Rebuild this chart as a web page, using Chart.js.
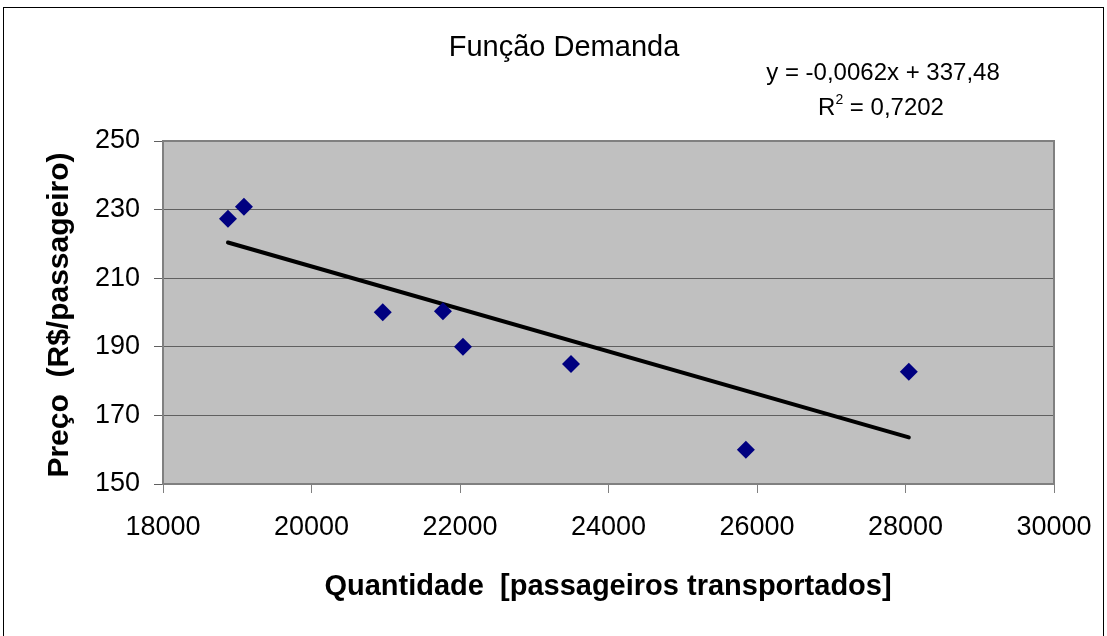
<!DOCTYPE html>
<html>
<head>
<meta charset="utf-8">
<script src="https://cdn.jsdelivr.net/npm/chart.js@4.4.0/dist/chart.umd.min.js"></script>
<style>
  html, body { margin: 0; padding: 0; background: #fff; }
  #wrap { width: 1107px; height: 636px; position: relative; }
</style>
</head>
<body>
<div id="wrap"><canvas id="demandaChart"></canvas></div>
<script>
// Data
const quantidade = [18875, 19090, 20960, 21770, 22040, 23495, 25850, 28045];
const preco = [227.3, 230.8, 200.1, 200.4, 190, 185, 160, 182.7];
// trendline endpoints (linear fit shown on the chart)
const trendX = [18875, 28045];
const trendY = [220.4, 163.6];
const yTicks = [150, 170, 190, 210, 230, 250];
const xTicks = [18000, 20000, 22000, 24000, 26000, 28000, 30000];

const titleText = 'Função Demanda';
const eqText = 'y = -0,0062x + 337,48';
const yTitle = 'Preço  (R$/passageiro)';
const xTitle = 'Quantidade  [passageiros transportados]';

const FONT = '"Liberation Sans", Arial, sans-serif';

// plot background, frame and the free text (title, equation, axis titles)
const decorPlugin = {
  id: 'decor',
  beforeDraw(chart) {
    const ctx = chart.ctx;
    const a = chart.chartArea;
    ctx.save();
    ctx.fillStyle = '#ffffff';
    ctx.fillRect(0, 0, chart.width, chart.height);
    // outer frame
    ctx.strokeStyle = '#000';
    ctx.lineWidth = 1;
    ctx.strokeRect(3.5, 7.5, 1100, 640);
    // plot area
    ctx.fillStyle = '#c0c0c0';
    ctx.fillRect(a.left, a.top, a.right - a.left, a.bottom - a.top);
    ctx.restore();
  },
  afterDraw(chart) {
    const ctx = chart.ctx;
    const a = chart.chartArea;
    ctx.save();
    ctx.strokeStyle = '#808080';
    ctx.lineWidth = 2;
    ctx.strokeRect(a.left, a.top, a.right - a.left, a.bottom - a.top);

    ctx.fillStyle = '#000';
    ctx.textAlign = 'center';
    ctx.textBaseline = 'middle';
    ctx.font = '29px ' + FONT;
    ctx.fillText(titleText, 564, 48);
    ctx.font = '24px ' + FONT;
    ctx.fillText(eqText, 883, 73);
    // R² line
    const rMain = 'R', rRest = ' = 0,7202';
    const wR = ctx.measureText(rMain).width;
    ctx.font = '14px ' + FONT;
    const wSup = ctx.measureText('2').width;
    ctx.font = '24px ' + FONT;
    const wRest = ctx.measureText(rRest).width;
    let x0 = 881 - (wR + wSup + wRest) / 2;
    ctx.textAlign = 'left';
    ctx.fillText(rMain, x0, 108);
    ctx.font = '14px ' + FONT;
    ctx.fillText('2', x0 + wR, 100);
    ctx.font = '24px ' + FONT;
    ctx.fillText(rRest, x0 + wR + wSup, 108);

    // axis titles
    ctx.textAlign = 'center';
    ctx.font = 'bold 29px ' + FONT;
    ctx.fillText(xTitle, 608, 587);
    ctx.font = 'bold 30px ' + FONT;
    ctx.translate(60, 315);
    ctx.rotate(-Math.PI / 2);
    ctx.fillText(yTitle, 0, 0);
    ctx.restore();
  }
};

new Chart(document.getElementById('demandaChart'), {
  data: {
    datasets: [
      {
        type: 'scatter',
        label: 'Preço',
        data: quantidade.map((q, i) => ({ x: q, y: preco[i] })),
        pointStyle: 'rectRot',
        pointRadius: 9,
        pointHoverRadius: 9,
        backgroundColor: '#000080',
        borderColor: '#000080',
        borderWidth: 0,
        order: 1
      },
      {
        type: 'line',
        label: 'Linear',
        data: trendX.map((q, i) => ({ x: q, y: trendY[i] })),
        borderColor: '#000',
        borderWidth: 4,
        pointRadius: 0,
        borderCapStyle: 'round',
        fill: false,
        order: 2
      }
    ]
  },
  options: {
    responsive: true,
    maintainAspectRatio: false,
    animation: false,
    layout: { padding: { top: 141, right: 53, left: 0, bottom: 0 } },
    plugins: {
      legend: { display: false },
      title: { display: false },
      tooltip: { enabled: false }
    },
    scales: {
      x: {
        type: 'linear',
        min: 18000,
        max: 30000,
        afterBuildTicks(scale) { scale.ticks = xTicks.map(v => ({ value: v })); },
        afterFit(scale) {
          scale.height = 152;
          scale.paddingRight = 0;
          scale.paddingLeft = 0;
        },
        grid: { drawOnChartArea: false, drawTicks: true, tickLength: 9, color: '#808080', lineWidth: 1 },
        border: { display: true, color: '#808080', width: 2 },
        ticks: {
          color: '#000', font: { family: FONT, size: 27 }, padding: 18, maxRotation: 0,
          callback: v => String(v)
        }
      },
      y: {
        min: 150,
        max: 250,
        afterBuildTicks(scale) { scale.ticks = yTicks.map(v => ({ value: v })); },
        afterFit(scale) { scale.width = 163; },
        grid: { drawOnChartArea: true, drawTicks: true, tickLength: 9, color: '#606060', lineWidth: 1 },
        border: { display: true, color: '#808080', width: 2 },
        ticks: { color: '#000', font: { family: FONT, size: 27 }, padding: 14, callback: v => String(v) }
      }
    }
  },
  plugins: [decorPlugin]
});
</script>
</body>
</html>
